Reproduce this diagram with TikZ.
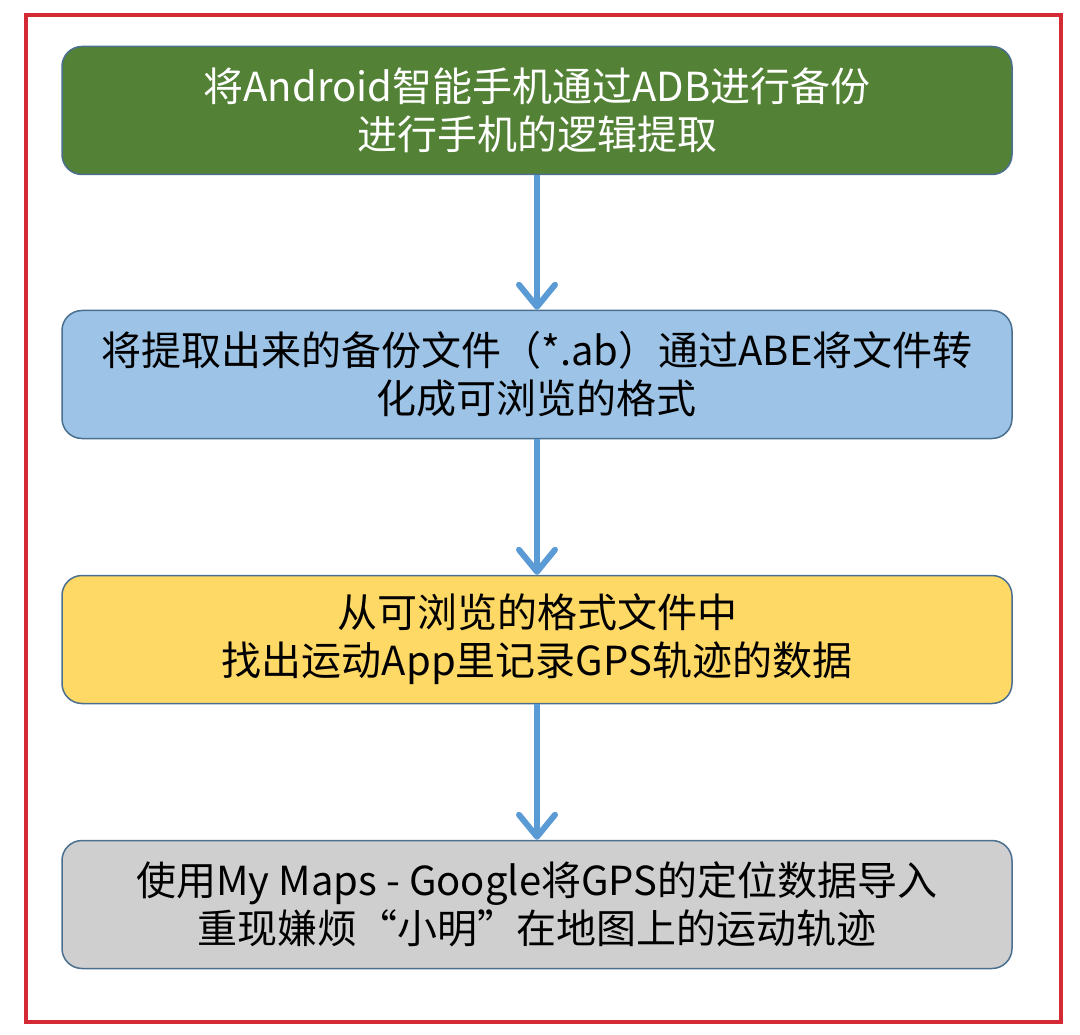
\documentclass[tikz,border=0pt]{standalone}
\usepackage{fontspec}
\setmainfont{Noto Sans CJK SC}
\usetikzlibrary{arrows.meta}
\definecolor{frameRed}{HTML}{D42A35}
\definecolor{edgeBlue}{HTML}{4A6F8F}
\definecolor{boxGreen}{HTML}{538135}
\definecolor{boxBlue}{HTML}{9DC3E6}
\definecolor{boxYellow}{HTML}{FFD966}
\definecolor{boxGray}{HTML}{CFCFCF}
\definecolor{arrowBlue}{HTML}{5B9BD5}
\tikzset{
  stepbox/.style={draw=edgeBlue, line width=1.5pt, rounded corners=20pt,
    minimum width=950pt, minimum height=128pt, align=center,
    font=\fontsize{40}{48}\selectfont, inner sep=0pt},
  flow/.style={draw=arrowBlue, line width=6pt,
    -{Straight Barb[round, length=22pt, width=36pt]}},
}
\begin{document}
\begin{tikzpicture}[x=1pt,y=-1pt]
\useasboundingbox (0,0) rectangle (1080,1035);
\draw[frameRed, line width=4pt] (25.5,15) rectangle (1061,1022);
\node[stepbox, fill=boxGreen, text=white] (s1) at (537,110.5)
  {将Android智能手机通过ADB进行备份\\进行手机的逻辑提取};
\node[stepbox, fill=boxBlue, text=black] (s2) at (537,374.5)
  {将提取出来的备份文件（*.ab）通过ABE将文件转\\化成可浏览的格式};
\node[stepbox, fill=boxYellow, text=black] (s3) at (537,639.5)
  {从可浏览的格式文件中\\找出运动App里记录GPS轨迹的数据};
\node[stepbox, fill=boxGray, text=black] (s4) at (537,904.5)
  {使用My Maps - Google将GPS的定位数据导入\\重现嫌烦“小明”在地图上的运动轨迹};
\draw[flow] (s1.south) -- (s2.north);
\draw[flow] (s2.south) -- (s3.north);
\draw[flow] (s3.south) -- (s4.north);
\end{tikzpicture}
\end{document}
